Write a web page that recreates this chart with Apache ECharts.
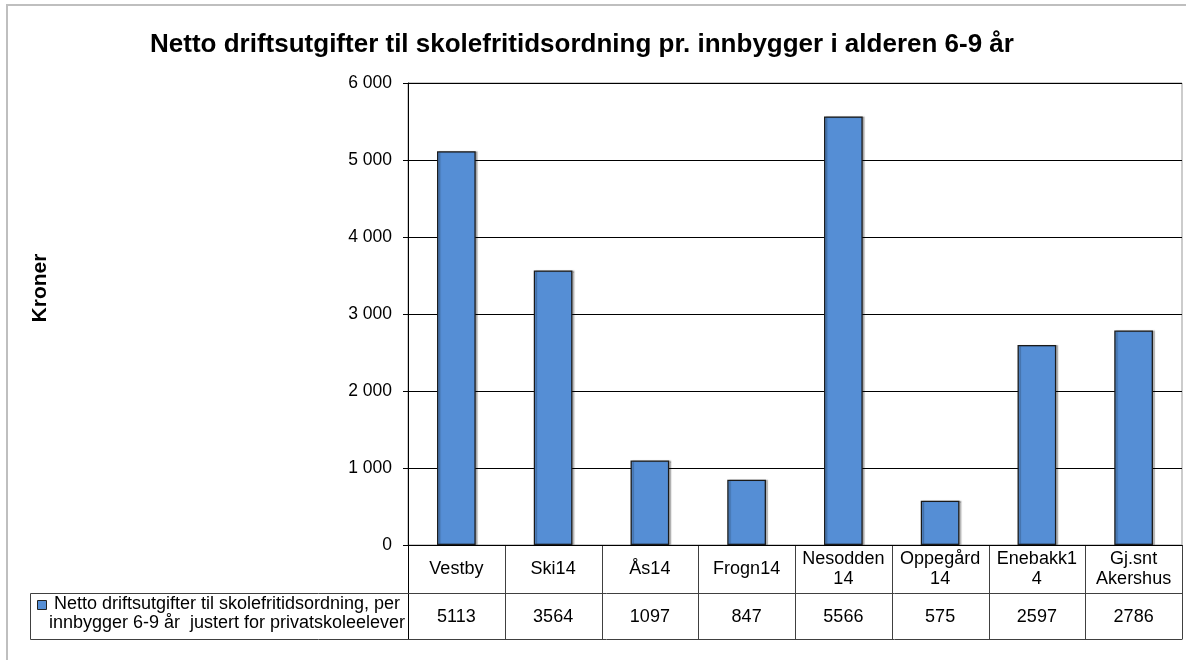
<!DOCTYPE html>
<html>
<head>
<meta charset="utf-8">
<script src="https://cdn.jsdelivr.net/npm/echarts@6/dist/echarts.min.js"></script>
<style>
  html, body { margin: 0; padding: 0; background: #fff; }
  #main { width: 1186px; height: 660px; }
</style>
</head>
<body>
<div id="main"></div>
<script>
// data
var categories = ['Vestby', 'Ski14', 'Ås14', 'Frogn14', 'Nesodden\n14', 'Oppegård\n14', 'Enebakk1\n4', 'Gj.snt\nAkershus'];
var values = [5113, 3564, 1097, 847, 5566, 575, 2597, 2786];
var seriesName = 'Netto driftsutgifter til skolefritidsordning, per\ninnbygger 6-9 år  justert for privatskoleelever';
var yTicks = [0, 1000, 2000, 3000, 4000, 5000, 6000];

var FONT = "'Liberation Sans', Arial, sans-serif";
var BAR = '#558ED5';
var LINE = '#404040';

var chart = echarts.init(document.getElementById('main'));

function fmt(v) {
  if (v < 1000) return String(v);
  var s = String(v % 1000);
  while (s.length < 3) s = '0' + s;
  return Math.floor(v / 1000) + ' ' + s;
}

var option = {
  animation: false,
  title: {
    text: 'Netto driftsutgifter til skolefritidsordning pr. innbygger i alderen 6-9 år',
    left: 577,
    top: 27,
    textAlign: 'center',
    textStyle: { fontFamily: FONT, fontSize: 26, fontWeight: 'bold', color: '#000' }
  },
  grid: { left: 408, top: 83, right: 4, bottom: 115, show: true, borderColor: '#999', borderWidth: 1 },
  xAxis: [
    {
      type: 'category',
      data: categories,
      axisLine: { lineStyle: { color: '#000' } },
      axisTick: { show: false },
      axisLabel: { margin: 24, verticalAlign: 'middle', lineHeight: 20, fontFamily: FONT, fontSize: 18, color: '#000', interval: 0 }
    },
    {
      type: 'category',
      position: 'bottom',
      offset: 48,
      data: values.map(String),
      axisLine: { show: false },
      axisTick: { show: false },
      axisLabel: { margin: 24, verticalAlign: 'middle', fontFamily: FONT, fontSize: 18, color: '#000', interval: 0 }
    }
  ],
  yAxis: {
    type: 'value',
    min: yTicks[0],
    max: yTicks[yTicks.length - 1],
    interval: 1000,
    axisLine: { show: true, lineStyle: { color: '#000' } },
    axisTick: { show: true, length: 5, lineStyle: { color: '#000' } },
    axisLabel: { margin: 16, formatter: fmt, fontFamily: FONT, fontSize: 17.5, color: '#000' },
    splitLine: { lineStyle: { color: '#000', width: 1 } }
  },
  series: [{
    name: seriesName,
    type: 'bar',
    xAxisIndex: 0,
    data: values,
    barWidth: '40%',
    itemStyle: {
      color: BAR, borderColor: '#1a1a1a', borderWidth: 1.3,
      shadowColor: 'rgba(0,0,0,0.25)', shadowOffsetX: 2, shadowOffsetY: 0, shadowBlur: 1
    }
  }]
};
chart.setOption(option);

// data table borders and legend key, placed from the category axis
var n = categories.length;
var x0 = chart.convertToPixel({ xAxisIndex: 0 }, 0);
var x1 = chart.convertToPixel({ xAxisIndex: 0 }, 1);
var band = x1 - x0;
var yZero = chart.convertToPixel({ yAxisIndex: 0 }, 0);
var rowH = 48;
var yMid = yZero + rowH;
var yBot = yZero + rowH * 2 - 2;
var legendLeft = 30;

var g = [];
g.push({ type: 'rect', shape: { x: 7, y: 5, width: 1200, height: 700 }, style: { fill: 'none', stroke: '#bfbfbf', lineWidth: 2 }, silent: true });
for (var i = 0; i <= n; i++) {
  var bx = Math.round(x0 - band / 2 + band * i) + 0.5;
  g.push({ type: 'line', shape: { x1: bx, y1: yZero, x2: bx, y2: yBot }, style: { stroke: i === 0 ? '#000' : LINE, lineWidth: 1 }, silent: true });
}
var right = Math.round(x0 - band / 2 + band * n) + 0.5;
g.push({ type: 'line', shape: { x1: legendLeft + 0.5, y1: yMid + 0.5, x2: right, y2: yMid + 0.5 }, style: { stroke: LINE, lineWidth: 1 }, silent: true });
g.push({ type: 'line', shape: { x1: legendLeft + 0.5, y1: yBot + 0.5, x2: right, y2: yBot + 0.5 }, style: { stroke: LINE, lineWidth: 1 }, silent: true });
g.push({ type: 'line', shape: { x1: legendLeft + 0.5, y1: yMid + 0.5, x2: legendLeft + 0.5, y2: yBot + 0.5 }, style: { stroke: LINE, lineWidth: 1 }, silent: true });
g.push({ type: 'rect', shape: { x: 37.5, y: 600.5, width: 9, height: 9 }, style: { fill: BAR, stroke: '#222', lineWidth: 1 }, silent: true });
g.push({ type: 'text', x: 227, y: 614, style: { text: seriesName, fontFamily: FONT, fontSize: 18, lineHeight: 19, fill: '#000', align: 'center', verticalAlign: 'middle' }, silent: true });
g.push({ type: 'text', x: 40, y: 288, rotation: Math.PI / 2, style: { text: 'Kroner', fontFamily: FONT, fontSize: 21, fontWeight: 'bold', fill: '#000', align: 'center', verticalAlign: 'middle' }, silent: true });
chart.setOption({ graphic: g });
</script>
</body>
</html>
